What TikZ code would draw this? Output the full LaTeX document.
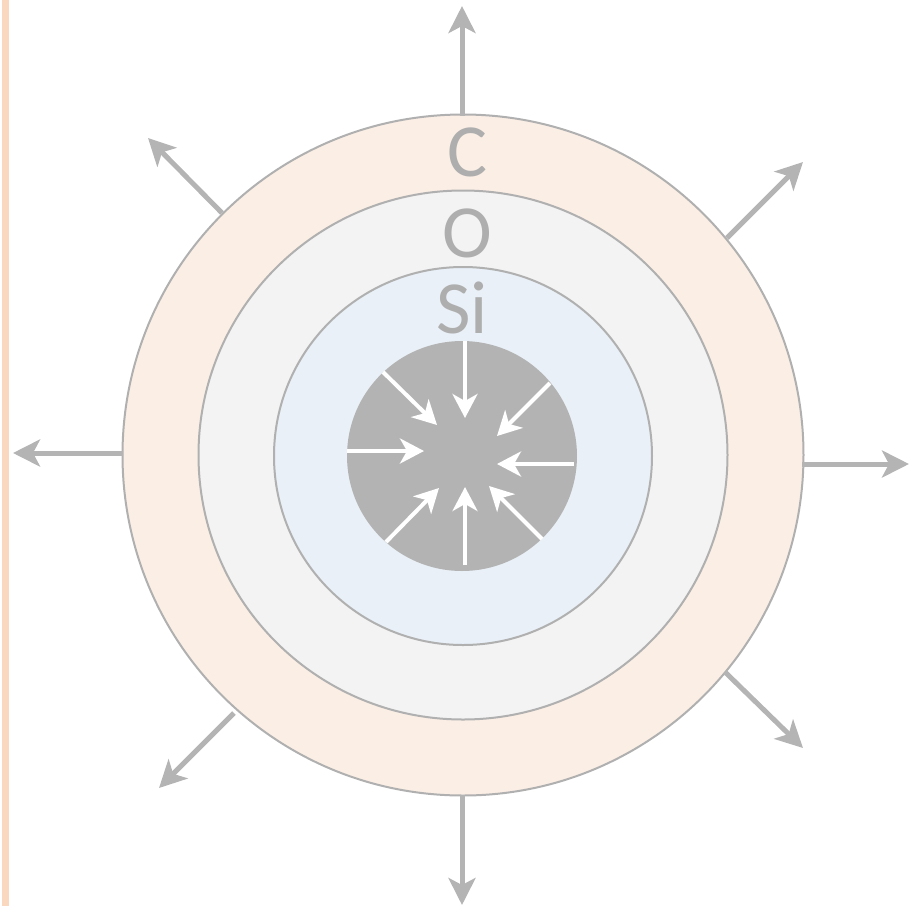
\documentclass[tikz,border=0pt]{standalone}
\usepackage{fontspec}
\setmainfont{Carlito}
\usetikzlibrary{arrows.meta}
\definecolor{ringC}{HTML}{FBEEE5}
\definecolor{ringO}{HTML}{F3F3F3}
\definecolor{ringSi}{HTML}{E9F0F7}
\definecolor{coregray}{HTML}{B3B3B3}
\definecolor{edgegray}{HTML}{B0B0B0}
\definecolor{arrowgray}{HTML}{B4B4B4}
\definecolor{textgray}{HTML}{AEAEAE}
\definecolor{barpeach}{HTML}{FAD8BF}
\tikzset{
  ring/.style={circle, draw=edgegray, line width=2pt, inner sep=0pt},
  lab/.style={text=textgray, font=\fontsize{75}{80}\selectfont, anchor=base, inner sep=0pt},
  outarrow/.style={draw=arrowgray, line width=5pt, -{Stealth[length=27pt, width=27pt, inset=7pt]}},
  inarrow/.style={draw=white, line width=4pt, -{Stealth[length=24pt, width=25pt, inset=7pt]}},
}
\begin{document}
\begin{tikzpicture}[x=1pt,y=-1pt]
\useasboundingbox (0,0) rectangle (914,906);
\fill[barpeach] (2,0) rectangle (9,906);
% rings
\node[ring, fill=ringC, minimum size=681pt] (outer) at (463,455) {};
\node[ring, fill=ringO, minimum size=529pt] (mid) at (463,455) {};
\node[ring, fill=ringSi, minimum size=378pt] (inner) at (463,456) {};
\node[circle, fill=coregray, inner sep=0pt, minimum size=230pt] (core) at (462,456) {};
% labels
\node[lab] (tC) at (467,176) {C};
\node[lab] (tO) at (467,257) {O};
\node[lab] (tSi) at (462,333) {Si};
% outer arrow coordinates
\coordinate (oT1) at (462,116); \coordinate (oT2) at (462,6);
\coordinate (oB1) at (462,795); \coordinate (oB2) at (462,905);
\coordinate (oL1) at (123,453); \coordinate (oL2) at (13,453);
\coordinate (oR1) at (802,464); \coordinate (oR2) at (909,464);
\coordinate (oUL1) at (222,213); \coordinate (oUL2) at (148,138);
\coordinate (oUR1) at (727,238); \coordinate (oUR2) at (803,162);
\coordinate (oLL1) at (234,713); \coordinate (oLL2) at (159,788);
\coordinate (oLR1) at (725,672); \coordinate (oLR2) at (803,748);
\foreach \n in {T,B,L,R,UL,UR,LL,LR} \draw[outarrow] (o\n1) -- (o\n2);
% inner arrow coordinates
\coordinate (iT1) at (465,341); \coordinate (iT2) at (465,418);
\coordinate (iB1) at (465,565); \coordinate (iB2) at (465,487);
\coordinate (iL1) at (347,451); \coordinate (iL2) at (424,451);
\coordinate (iR1) at (574,464); \coordinate (iR2) at (497,464);
\coordinate (iUL1) at (383,372); \coordinate (iUL2) at (437,425);
\coordinate (iUR1) at (550,383); \coordinate (iUR2) at (497,436);
\coordinate (iLL1) at (386,542); \coordinate (iLL2) at (439,488);
\coordinate (iLR1) at (542,539); \coordinate (iLR2) at (489,486);
\foreach \n in {T,B,L,R,UL,UR,LL,LR} \draw[inarrow] (i\n1) -- (i\n2);
\end{tikzpicture}
\end{document}
